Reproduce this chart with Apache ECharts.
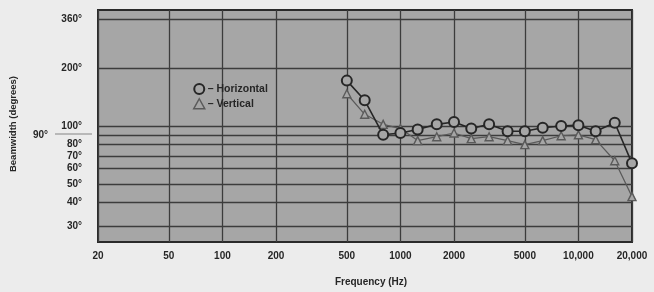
<!DOCTYPE html>
<html>
<head>
<meta charset="utf-8">
<script src="https://cdn.jsdelivr.net/npm/echarts@6/dist/echarts.min.js"></script>
<style>
  html, body { margin: 0; padding: 0; background: #ececec; }
  #chart { width: 654px; height: 292px; }
</style>
</head>
<body>
<div id="chart"></div>
<script>
// 1/3 octave frequencies (Hz)
var freqs = [500, 630, 800, 1000, 1250, 1600, 2000, 2500, 3150, 4000, 5000, 6300, 8000, 10000, 12500, 16000, 20000]
var horizontal = [172, 136, 90, 92, 96, 102, 105, 97, 102, 94, 94, 98, 100, 101, 94, 104, 64]
var vertical = [147, 115, 102, 97, 84, 88, 92, 86, 88, 84, 80, 84, 89, 90, 85, 66, 43]
var xTicks = [20, 50, 100, 200, 500, 1000, 2000, 5000, 10000, 20000]
var yTicks = [30, 40, 50, 60, 70, 80, 90, 100, 200, 360]

var plotBg = '#a6a6a6'
var gridColor = '#3c3c3c'
var textColor = '#262626'

function pairs (xs, ys) {
  return xs.map(function (x, i) { return [x, ys[i]] })
}
function fmtFreq (v) {
  return v >= 10000 ? v.toLocaleString('en-US') : String(v)
}

var lineLabel = { fontFamily: 'Liberation Sans', fontWeight: 'bold', fontSize: 10, color: textColor }

var marks = []
xTicks.forEach(function (v) {
  marks.push({ xAxis: v, label: Object.assign({ position: 'start', distance: 9, formatter: fmtFreq(v) }, lineLabel) })
})
yTicks.forEach(function (v) {
  var lab = Object.assign({ position: 'start', distance: 16, formatter: v + '°' }, lineLabel)
  if (v === 90) {
    lab.distance = 50
  }
  marks.push({ yAxis: v, label: lab })
})

var myChart = echarts.init(document.getElementById('chart'))
var option = {
  animation: false,
  backgroundColor: '#ececec',
  grid: {
    left: 98,
    right: 22,
    top: 10,
    bottom: 49,
    show: true,
    backgroundColor: plotBg,
    borderColor: '#2a2a2a',
    borderWidth: 2
  },
  legend: {
    orient: 'vertical',
    left: 188,
    top: 78,
    itemWidth: 11,
    itemHeight: 10,
    itemGap: 3,
    textStyle: { fontFamily: 'Liberation Sans', fontWeight: 'bold', fontSize: 10.5, color: textColor, padding: [0, 0, 0, -2] },
    formatter: function (name) { return '– ' + name },
    data: [
      { name: 'Horizontal', icon: 'circle', itemStyle: { color: plotBg, borderColor: '#262626', borderWidth: 2 } },
      { name: 'Vertical', icon: 'triangle', itemStyle: { color: plotBg, borderColor: '#5a5a5a', borderWidth: 1.5 } }
    ]
  },
  xAxis: {
    type: 'log',
    logBase: 10,
    min: 20,
    max: 20000,
    name: 'Frequency (Hz)',
    nameLocation: 'middle',
    nameGap: 35,
    nameTextStyle: { fontFamily: 'Liberation Sans', fontWeight: 'bold', fontSize: 10, color: textColor, padding: [0, 0, 0, 12] },
    axisLine: { show: false },
    axisTick: { show: false },
    axisLabel: { show: false },
    splitLine: { show: false }
  },
  yAxis: {
    type: 'log',
    logBase: 10,
    min: 25,
    max: 400,
    name: 'Beamwidth (degrees)',
    nameLocation: 'middle',
    nameGap: 80,
    nameRotate: 90,
    nameTextStyle: { fontFamily: 'Liberation Sans', fontWeight: 'bold', fontSize: 9.5, color: textColor, padding: [0, 0, 0, 4] },
    axisLine: { show: false },
    axisTick: { show: false },
    axisLabel: { show: false },
    splitLine: { show: false }
  },
  graphic: [
    { type: 'line', shape: { x1: 55, y1: 134, x2: 92, y2: 134 }, style: { stroke: '#b8b8b8', lineWidth: 2 } }
  ],
  series: [
    {
      name: 'Vertical',
      type: 'line',
      z: 3,
      data: pairs(freqs, vertical),
      symbol: 'triangle',
      symbolSize: 8,
      lineStyle: { color: '#5a5a5a', width: 1.2 },
      itemStyle: { color: plotBg, borderColor: '#5a5a5a', borderWidth: 1.4 }
    },
    {
      name: 'Horizontal',
      type: 'line',
      z: 4,
      data: pairs(freqs, horizontal),
      symbol: 'circle',
      symbolSize: 10,
      lineStyle: { color: '#262626', width: 1.6 },
      itemStyle: { color: plotBg, borderColor: '#262626', borderWidth: 2 },
      markLine: {
        silent: true,
        symbol: 'none',
        z: 1,
        lineStyle: { type: 'solid', color: gridColor, width: 1.3 },
        data: marks
      }
    }
  ]
}
myChart.setOption(option)
</script>
</body>
</html>
